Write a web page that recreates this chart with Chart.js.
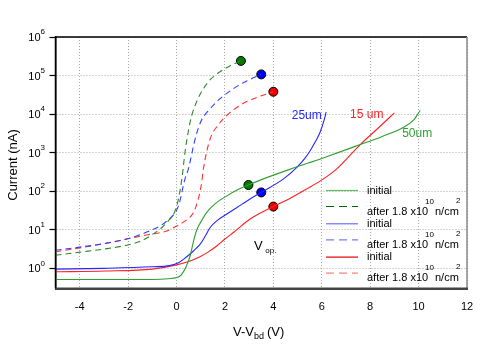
<!DOCTYPE html>
<html>
<head>
<meta charset="utf-8">
<script src="https://cdn.jsdelivr.net/npm/chart.js@4.4.0/dist/chart.umd.min.js"></script>
<style>
  body { margin: 0; background: #fff; }
  #wrap { width: 491px; height: 345px; }
</style>
</head>
<body>
<div id="wrap"><canvas id="chart" width="491" height="345"></canvas></div>
<script>
// x ticks and y decades
const xTicks = [-4, -2, 0, 2, 4, 6, 8, 10, 12];
const yDecades = [0, 1, 2, 3, 4, 5, 6];

// initial curves (solid)
const g50X = [-5, -3, -1, -0.35, 0.1, 0.22, 0.4, 0.56, 0.7, 0.84, 1.0, 1.25, 1.6, 2.08, 2.5, 2.97, 3.59, 4.83, 6.0, 7.59, 8.5, 9.38, 9.8, 10.07];
const g50Y = [0.513, 0.513, 0.513, 0.537, 0.603, 0.708, 1.12, 2.09, 5.01, 10, 15.8, 28.2, 47.9, 75.9, 107, 145, 209, 398, 708, 1622, 2630, 4571, 7079, 12589];

const b25X = [-5, -3, -1, -0.3, 0.1, 0.42, 0.7, 0.97, 1.2, 1.39, 1.7, 2.08, 2.5, 3.04, 3.5, 4.42, 4.97, 5.3, 5.52, 5.75, 5.93, 6.1, 6.18];
const b25Y = [0.955, 1.0, 1.096, 1.175, 1.413, 1.995, 2.818, 4.169, 7.079, 11.48, 17.78, 25.7, 38.0, 63.1, 93.3, 209, 417, 708, 1122, 1995, 3388, 7079, 11220];

const r15X = [-5, -3, -1, 0, 0.5, 0.97, 1.3, 1.66, 2.0, 2.35, 3.04, 3.98, 4.7, 5.38, 6.07, 6.62, 7.59, 8.3, 9.0];
const r15Y = [0.813, 0.851, 0.955, 1.23, 1.51, 2.0, 2.63, 3.80, 5.75, 8.51, 19.05, 39.8, 66.1, 115, 209, 380, 1622, 4169, 10715];

// after 1.8e10 n/cm2 (dashed)
const g50aX = [-5, -4, -3, -2.06, -1.5, -1.09, -0.4, 0.01, 0.22, 0.35, 0.5, 0.63, 0.85, 1.11, 1.4, 1.8, 2.2, 2.66];
const g50aY = [2.19, 2.63, 3.16, 3.98, 5.01, 6.92, 15.5, 41.7, 209, 1023, 3981, 9333, 22387, 45709, 79433, 125893, 177828, 239883];

const b25aX = [-5, -4, -3, -2.06, -1.2, -0.4, 0.08, 0.35, 0.49, 0.77, 1.0, 1.39, 1.8, 2.35, 2.9, 3.5];
const b25aY = [2.95, 3.55, 4.37, 5.75, 8.91, 17.0, 41.7, 209, 380, 2291, 6310, 13804, 25119, 45709, 72444, 107152];

const r15aX = [-5, -4, -3, -2.06, -1.2, -0.4, 0.01, 0.4, 0.7, 0.9, 1.04, 1.11, 1.39, 1.7, 2.08, 2.63, 3.18, 4.0];
const r15aY = [2.69, 3.39, 4.37, 5.75, 7.41, 9.33, 12.6, 17.8, 28.2, 63.1, 170, 380, 2291, 5012, 9333, 16982, 25119, 38019];

// operating points
const opInitX = [2.97, 3.5, 4.0];
const opInitY = [145, 93, 40];
const opAfterX = [2.66, 3.5, 4.0];
const opAfterY = [239883, 107152, 38019];
const opColors = ["#007a00", "#0000ee", "#ee0000"];

const FONT = "'Liberation Sans', Arial, sans-serif";

const pts = (xs, ys) => xs.map((x, i) => ({ x: x, y: ys[i] }));

function curve(xs, ys, color, dash) {
  return {
    data: pts(xs, ys),
    showLine: true,
    borderColor: color,
    borderWidth: 1.1,
    borderDash: dash ? [6, 4] : [],
    pointRadius: 0,
    cubicInterpolationMode: "monotone",
  };
}

const datasets = [
  curve(g50X, g50Y, "#2f9e2f", false),
  curve(g50aX, g50aY, "#2a8a2a", true),
  curve(b25X, b25Y, "#2626ff", false),
  curve(b25aX, b25aY, "#2f3fff", true),
  curve(r15X, r15Y, "#ff2020", false),
  curve(r15aX, r15aY, "#ff3030", true),
  {
    data: pts(opInitX.concat(opAfterX), opInitY.concat(opAfterY)),
    showLine: false,
    pointRadius: 4.5,
    pointBorderWidth: 1,
    pointBorderColor: "#000",
    pointBackgroundColor: opColors.concat(opColors),
  },
];

// legend rows: color, dashed
const legendRows = [
  ["#5fbf5f", false], ["#006400", true],
  ["#6b6bff", false], ["#7b7bff", true],
  ["#dd0000", false], ["#ff8080", true],
];

const extras = {
  id: "extras",
  afterDraw(chart) {
    const { ctx, chartArea: a, scales } = chart;
    const xs = scales.x, ys = scales.y;
    ctx.save();
    ctx.setLineDash([]);
    // frame
    ctx.strokeStyle = "#000";
    ctx.lineWidth = 1.5;
    ctx.beginPath();
    ctx.moveTo(a.left, a.bottom);
    ctx.lineTo(a.left, a.top);
    ctx.lineTo(a.right, a.top);
    ctx.stroke();
    ctx.strokeStyle = "#888";
    ctx.beginPath();
    ctx.moveTo(a.right, a.top);
    ctx.lineTo(a.right, a.bottom);
    ctx.stroke();
    ctx.strokeStyle = "#444";
    ctx.lineWidth = 2;
    ctx.beginPath();
    ctx.moveTo(a.left, a.bottom);
    ctx.lineTo(a.right + 1, a.bottom);
    ctx.stroke();

    // y tick labels 10^n
    ctx.fillStyle = "#000";
    ctx.textBaseline = "middle";
    yDecades.forEach((d) => {
      const y = ys.getPixelForValue(Math.pow(10, d));
      ctx.font = "8px " + FONT;
      ctx.textAlign = "left";
      const ew = ctx.measureText(String(d)).width;
      const ex = 45 - ew;
      ctx.fillText(String(d), ex, y - 5);
      ctx.font = "11px " + FONT;
      ctx.textAlign = "right";
      ctx.fillText("10", ex, y + 1);
    });

    // axis titles
    ctx.font = "13px " + FONT;
    ctx.textAlign = "center";
    ctx.save();
    ctx.translate(13, 165);
    ctx.rotate(-Math.PI / 2);
    ctx.fillText("Current (nA)", 0, 0);
    ctx.restore();

    ctx.textAlign = "left";
    ctx.textBaseline = "alphabetic";
    let tx = 233;
    const ty = 336;
    ctx.fillText("V-V", tx, ty);
    tx += ctx.measureText("V-V").width;
    ctx.font = "9px " + FONT;
    ctx.fillText("bd", tx, ty + 3);
    tx += ctx.measureText("bd").width + 3;
    ctx.font = "13px " + FONT;
    ctx.fillText("(V)", tx, ty);

    // curve labels
    ctx.font = "12px " + FONT;
    ctx.textBaseline = "middle";
    ctx.fillStyle = "#2626ff";
    ctx.textAlign = "right";
    ctx.fillText("25um", xs.getPixelForValue(6.0), ys.getPixelForValue(9100));
    ctx.fillStyle = "#ff2020";
    ctx.textAlign = "left";
    ctx.fillText("15 um", xs.getPixelForValue(7.17), ys.getPixelForValue(9500));
    ctx.fillStyle = "#2f9e2f";
    ctx.fillText("50um", xs.getPixelForValue(9.32), ys.getPixelForValue(3100));

    // V_op label
    ctx.fillStyle = "#000";
    ctx.font = "13px " + FONT;
    const vx = xs.getPixelForValue(3.2), vy = ys.getPixelForValue(3.8);
    ctx.fillText("V", vx, vy);
    ctx.font = "8px " + FONT;
    ctx.fillText("op.", vx + ctx.measureText("V").width + 6, vy + 5);

    // legend
    const lx0 = 326, lx1 = 358, textX = 367;
    legendRows.forEach((row, i) => {
      const pair = Math.floor(i / 2);
      const base = 190.5 + pair * 33.3;
      const ly = row[1] ? base + 16 : base;
      ctx.strokeStyle = row[0];
      ctx.lineWidth = 1.2;
      ctx.setLineDash(row[1] ? [8, 5] : []);
      ctx.beginPath();
      ctx.moveTo(lx0, ly);
      ctx.lineTo(lx1, ly);
      ctx.stroke();
      ctx.setLineDash([]);
      ctx.fillStyle = "#000";
      ctx.textAlign = "left";
      ctx.textBaseline = "middle";
      if (!row[1]) {
        ctx.font = "11px " + FONT;
        ctx.fillText("initial", textX, base);
      } else {
        const t = base + 21;
        ctx.font = "11px " + FONT;
        ctx.fillText("after 1.8 x10", textX, t);
        ctx.fillText("n/cm", 435, t);
        ctx.font = "8px " + FONT;
        ctx.fillText("10", 425, t - 10);
        ctx.fillText("2", 456, t - 11);
      }
    });
    ctx.restore();
  },
};

new Chart(document.getElementById("chart"), {
  type: "scatter",
  data: { datasets: datasets },
  options: {
    responsive: false,
    animation: false,
    devicePixelRatio: 1,
    layout: { padding: { top: 37, right: 24, left: 0, bottom: 0 } },
    plugins: { legend: { display: false }, tooltip: { enabled: false } },
    scales: {
      x: {
        type: "linear",
        min: -5,
        max: 12,
        afterBuildTicks: (s) => { s.ticks = xTicks.map((v) => ({ value: v })); },
        afterFit: (s) => { s.height = 56.5; },
        ticks: { color: "#000", font: { family: FONT, size: 11 }, padding: 12, maxRotation: 0 },
        grid: { color: "#a8a8a8", lineWidth: 1, drawTicks: false },
        border: { display: true, color: "#444", width: 2, dash: [1, 2] },
      },
      y: {
        type: "logarithmic",
        min: Math.pow(10, -0.5),
        max: 1e6,
        afterBuildTicks: (s) => { s.ticks = yDecades.map((d) => ({ value: Math.pow(10, d) })); },
        afterFit: (s) => { s.width = 55.5; },
        ticks: { display: false },
        grid: {
          color: "#a8a8a8", lineWidth: 1,
          drawTicks: true, tickLength: 6, tickColor: "#000", tickBorderDash: [], tickWidth: 1.2,
        },
        border: { display: true, color: "#000", width: 1.5, dash: [1, 2] },
      },
    },
  },
  plugins: [extras],
});
</script>
</body>
</html>
